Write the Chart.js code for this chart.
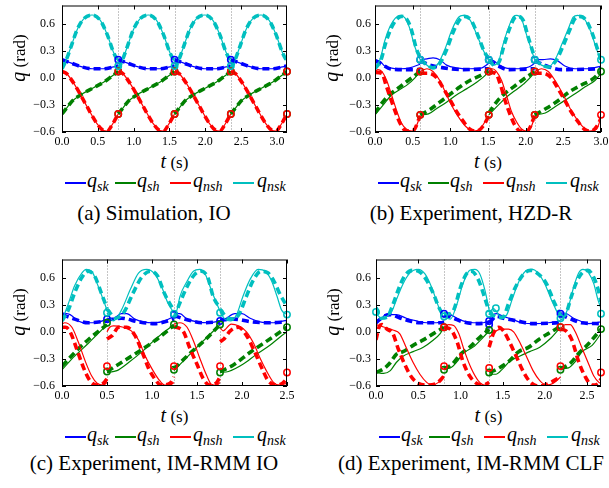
<!DOCTYPE html>
<html>
<head>
<meta charset="utf-8">
<script src="https://cdn.jsdelivr.net/npm/chart.js@4.4.0/dist/chart.umd.min.js"></script>
<style>
  body { margin: 0; background: #fff; }
  #fig { position: relative; width: 609px; height: 488px; overflow: hidden; background: #fff; font-family: 'Liberation Serif', serif; color: #000; }
  canvas { position: absolute; }
  .t { position: absolute; white-space: nowrap; line-height: 1; }
  .c { transform: translate(-50%, -50%); }
  .rot { transform: translate(-50%, -50%) rotate(-90deg); }
  .cap { font-size: 21px; }
  .ax { font-size: 17px; }
  .ax i { font-size: 20px; }
  .lg { font-size: 20px; line-height: 20px; }
  .lg sub { font-size: 14px; font-style: italic; vertical-align: -4px; line-height: 0; }
  .ll { position: absolute; height: 1.4px; width: 21px; }
</style>
</head>
<body>
<div id="fig">
  <canvas id="cA" width="304" height="150" style="left:0;top:0"></canvas>
  <canvas id="cB" width="304" height="150" style="left:305px;top:0"></canvas>
  <canvas id="cC" width="304" height="150" style="left:0;top:254px"></canvas>
  <canvas id="cD" width="304" height="150" style="left:305px;top:254px"></canvas>
</div>
<script>
// joint angles q (rad) vs t (s); solid = measured, dashed = desired, null breaks a step at impact
const N = null;
const yTicks = [-0.6, -0.3, 0, 0.3, 0.6];
const xTicksA = [0, 0.5, 1, 1.5, 2, 2.5, 3];
const xTicksB = [0, 0.5, 1, 1.5, 2, 2.5, 3];
const xTicksC = [0, 0.5, 1, 1.5, 2, 2.5];
const xTicksD = [0, 0.5, 1, 1.5, 2, 2.5];
const tImpactA = [0.785, 1.571, 2.356];
const tImpactB = [0.6, 1.51, 2.12];
const tImpactC = [0.5, 1.244, 1.756];
const tImpactD = [0.806, 1.34, 2.185];
const names = ['sk', 'sh', 'nsh', 'nsk'];

// (a) Simulation, IO
const skA = [[0,0.2],[0.14,0.16],[0.28,0.12],[0.42,0.1],[0.58,0.1],[0.72,0.12],[0.785,0.13],[0.785,N],
  [0.785,0.2],[0.925,0.16],[1.065,0.12],[1.205,0.1],[1.365,0.1],[1.505,0.12],[1.571,0.13],[1.571,N],
  [1.571,0.2],[1.711,0.16],[1.851,0.12],[1.991,0.1],[2.151,0.1],[2.291,0.12],[2.356,0.13],[2.356,N],
  [2.356,0.2],[2.496,0.16],[2.636,0.12],[2.776,0.1],[2.936,0.1],[3.076,0.12],[3.14,0.13]];
const shA = [[0,-0.4],[0.07,-0.33],[0.14,-0.26],[0.28,-0.18],[0.44,-0.11],[0.58,-0.05],[0.7,0.02],[0.785,0.07],[0.785,N],
  [0.785,-0.4],[0.855,-0.33],[0.925,-0.26],[1.065,-0.18],[1.225,-0.11],[1.365,-0.05],[1.485,0.02],[1.571,0.07],[1.571,N],
  [1.571,-0.4],[1.641,-0.33],[1.711,-0.26],[1.851,-0.18],[2.011,-0.11],[2.151,-0.05],[2.271,0.02],[2.356,0.07],[2.356,N],
  [2.356,-0.4],[2.426,-0.33],[2.496,-0.26],[2.636,-0.18],[2.796,-0.11],[2.936,-0.05],[3.056,0.02],[3.14,0.07]];
const nshA = [[0,0.07],[0.06,0.05],[0.13,-0.02],[0.21,-0.12],[0.35,-0.32],[0.49,-0.51],[0.58,-0.585],[0.63,-0.59],[0.7,-0.52],[0.785,-0.4],[0.785,N],
  [0.785,0.07],[0.845,0.05],[0.915,-0.02],[0.995,-0.12],[1.135,-0.32],[1.275,-0.51],[1.365,-0.585],[1.415,-0.59],[1.485,-0.52],[1.571,-0.4],[1.571,N],
  [1.571,0.07],[1.631,0.05],[1.701,-0.02],[1.781,-0.12],[1.921,-0.32],[2.061,-0.51],[2.151,-0.585],[2.201,-0.59],[2.271,-0.52],[2.356,-0.4],[2.356,N],
  [2.356,0.07],[2.416,0.05],[2.486,-0.02],[2.566,-0.12],[2.706,-0.32],[2.846,-0.51],[2.936,-0.585],[2.986,-0.59],[3.056,-0.52],[3.14,-0.4]];
const nskA = [[0,0.1],[0.06,0.2],[0.12,0.33],[0.21,0.53],[0.3,0.65],[0.42,0.695],[0.53,0.64],[0.63,0.48],[0.72,0.28],[0.785,0.18],[0.785,N],
  [0.785,0.1],[0.845,0.2],[0.905,0.33],[0.995,0.53],[1.085,0.65],[1.205,0.695],[1.315,0.64],[1.415,0.48],[1.505,0.28],[1.571,0.18],[1.571,N],
  [1.571,0.1],[1.631,0.2],[1.691,0.33],[1.781,0.53],[1.871,0.65],[1.991,0.695],[2.101,0.64],[2.201,0.48],[2.291,0.28],[2.356,0.18],[2.356,N],
  [2.356,0.1],[2.416,0.2],[2.476,0.33],[2.566,0.53],[2.656,0.65],[2.776,0.695],[2.886,0.64],[2.986,0.48],[3.076,0.28],[3.14,0.18]];
// in simulation the desired curves sit on top of the measured ones
const skRefA = skA, shRefA = shA, nshRefA = nshA, nskRefA = nskA;
const markA = [
  [[0.785,0.2],[1.571,0.2],[2.356,0.2]],
  [[0.785,0.07],[1.571,0.07],[2.356,0.07],[3.14,0.07],[0.785,-0.4],[1.571,-0.4],[2.356,-0.4],[3.14,-0.4]],
  [[0.785,0.07],[1.571,0.07],[2.356,0.07],[3.14,0.07],[0.785,-0.4],[1.571,-0.4],[2.356,-0.4],[3.14,-0.4]],
  [[0.785,0.13],[1.571,0.13],[2.356,0.13]]];

// (b) Experiment, HZD-R
const skB = [[0,0.2],[0.07,0.18],[0.13,0.13],[0.2,0.11],[0.33,0.1],[0.46,0.11],[0.6,0.15],[0.6,N],
  [0.6,0.2],[0.69,0.21],[0.77,0.22],[0.86,0.2],[0.95,0.14],[1.08,0.11],[1.26,0.1],[1.42,0.11],[1.51,0.16],[1.51,N],
  [1.51,0.2],[1.57,0.19],[1.64,0.15],[1.73,0.11],[1.9,0.1],[2.04,0.12],[2.12,0.16],[2.12,N],
  [2.12,0.2],[2.23,0.2],[2.33,0.21],[2.42,0.19],[2.52,0.13],[2.65,0.1],[2.83,0.1],[3.0,0.13]];
const skRefB = [[0,0.19],[0.11,0.14],[0.2,0.1],[0.4,0.09],[0.6,0.09],[0.6,N],
  [0.6,0.19],[0.73,0.14],[0.91,0.11],[1.17,0.09],[1.51,0.1],[1.51,N],
  [1.51,0.19],[1.64,0.13],[1.77,0.09],[2.12,0.1],[2.12,N],
  [2.12,0.19],[2.28,0.13],[2.48,0.09],[3.0,0.1]];
const shB = [[0,-0.41],[0.11,-0.3],[0.22,-0.19],[0.33,-0.13],[0.44,-0.07],[0.53,0.0],[0.6,0.07],[0.6,N],
  [0.6,-0.41],[0.71,-0.4],[0.82,-0.34],[0.95,-0.27],[1.08,-0.19],[1.22,-0.12],[1.35,-0.05],[1.48,0.04],[1.51,0.07],[1.51,N],
  [1.51,-0.41],[1.64,-0.3],[1.75,-0.21],[1.86,-0.14],[1.97,-0.07],[2.08,0.02],[2.12,0.07],[2.12,N],
  [2.12,-0.41],[2.26,-0.39],[2.39,-0.32],[2.52,-0.25],[2.65,-0.18],[2.79,-0.1],[2.92,-0.03],[3.0,0.05]];
const shRefB = [[0,-0.39],[0.11,-0.26],[0.22,-0.17],[0.33,-0.1],[0.44,-0.03],[0.6,0.07],[0.6,N],
  [0.6,-0.41],[0.73,-0.35],[0.86,-0.27],[1.0,-0.18],[1.13,-0.1],[1.26,-0.03],[1.39,0.02],[1.51,0.07],[1.51,N],
  [1.51,-0.39],[1.62,-0.26],[1.73,-0.17],[1.84,-0.1],[1.95,-0.03],[2.12,0.07],[2.12,N],
  [2.12,-0.41],[2.27,-0.34],[2.42,-0.26],[2.59,-0.15],[2.74,-0.08],[2.88,-0.02],[3.0,0.07]];
const nshB = [[0,0.07],[0.04,0.09],[0.09,0.07],[0.15,-0.02],[0.22,-0.19],[0.29,-0.37],[0.35,-0.5],[0.42,-0.57],[0.49,-0.59],[0.55,-0.53],[0.6,-0.42],[0.6,N],
  [0.6,0.07],[0.69,0.1],[0.77,0.07],[0.86,-0.03],[0.95,-0.19],[1.04,-0.34],[1.13,-0.46],[1.22,-0.55],[1.31,-0.59],[1.39,-0.57],[1.48,-0.46],[1.51,-0.42],[1.51,N],
  [1.51,0.07],[1.56,0.1],[1.61,0.07],[1.68,-0.03],[1.75,-0.21],[1.81,-0.37],[1.88,-0.49],[1.95,-0.57],[2.01,-0.59],[2.08,-0.53],[2.12,-0.42],[2.12,N],
  [2.12,0.07],[2.21,0.1],[2.3,0.07],[2.39,-0.03],[2.5,-0.19],[2.59,-0.34],[2.68,-0.46],[2.77,-0.55],[2.85,-0.59],[2.94,-0.57],[3.0,-0.44]];
const nshRefB = [[0,0.06],[0.09,0.05],[0.15,-0.09],[0.22,-0.26],[0.29,-0.42],[0.35,-0.53],[0.42,-0.59],[0.51,-0.58],[0.6,-0.42],[0.6,N],
  [0.6,0.05],[0.71,0.05],[0.82,0.0],[0.91,-0.12],[1.0,-0.25],[1.08,-0.37],[1.17,-0.48],[1.26,-0.57],[1.35,-0.59],[1.44,-0.53],[1.51,-0.42],[1.51,N],
  [1.51,0.06],[1.6,0.05],[1.67,-0.09],[1.73,-0.26],[1.8,-0.42],[1.86,-0.53],[1.93,-0.59],[2.03,-0.58],[2.12,-0.42],[2.12,N],
  [2.12,0.05],[2.23,0.05],[2.34,0.0],[2.43,-0.12],[2.52,-0.25],[2.6,-0.37],[2.69,-0.48],[2.78,-0.57],[2.87,-0.59],[2.95,-0.53],[3.0,-0.45]];
const nskB = [[0,0.09],[0.07,0.21],[0.13,0.41],[0.2,0.57],[0.27,0.66],[0.33,0.69],[0.4,0.66],[0.46,0.55],[0.53,0.34],[0.6,0.2],[0.6,N],
  [0.6,0.2],[0.66,0.16],[0.75,0.11],[0.84,0.16],[0.93,0.32],[1.02,0.53],[1.11,0.67],[1.17,0.69],[1.26,0.64],[1.35,0.48],[1.44,0.3],[1.51,0.2],[1.51,N],
  [1.51,0.2],[1.57,0.14],[1.64,0.18],[1.7,0.37],[1.77,0.55],[1.84,0.68],[1.88,0.69],[1.95,0.64],[2.01,0.48],[2.08,0.3],[2.12,0.2],[2.12,N],
  [2.12,0.2],[2.21,0.14],[2.3,0.12],[2.39,0.2],[2.48,0.37],[2.57,0.55],[2.63,0.67],[2.69,0.69],[2.77,0.66],[2.86,0.52],[2.94,0.32],[3.0,0.18]];
const nskRefB = [[0,0.1],[0.08,0.2],[0.14,0.38],[0.21,0.54],[0.28,0.64],[0.35,0.68],[0.42,0.65],[0.48,0.54],[0.55,0.32],[0.6,0.22],[0.6,N],
  [0.6,0.2],[0.68,0.15],[0.77,0.11],[0.86,0.16],[0.95,0.31],[1.04,0.51],[1.13,0.65],[1.19,0.68],[1.28,0.63],[1.37,0.46],[1.45,0.29],[1.51,0.21],[1.51,N],
  [1.51,0.2],[1.58,0.14],[1.65,0.18],[1.71,0.35],[1.78,0.53],[1.85,0.66],[1.9,0.68],[1.97,0.63],[2.03,0.46],[2.09,0.3],[2.12,0.22],[2.12,N],
  [2.12,0.2],[2.22,0.14],[2.31,0.12],[2.41,0.2],[2.5,0.36],[2.59,0.54],[2.65,0.65],[2.71,0.68],[2.79,0.65],[2.88,0.5],[2.96,0.3],[3.0,0.2]];
const markB = [
  [[0.6,0.2],[1.51,0.2],[2.12,0.2]],
  [[0.6,0.07],[1.51,0.07],[2.12,0.07],[3.0,0.07],[0.6,-0.41],[1.51,-0.41],[2.12,-0.41]],
  [[0.6,0.07],[1.51,0.07],[2.12,0.07],[0.6,-0.41],[1.51,-0.41],[2.12,-0.41],[3.0,-0.41]],
  [[0.6,0.2],[1.51,0.2],[2.12,0.2],[3.0,0.2]]];

// (c) Experiment, IM-RMM IO
const skC = [[0,0.21],[0.09,0.19],[0.18,0.12],[0.26,0.1],[0.37,0.1],[0.5,0.14],[0.5,N],
  [0.5,0.12],[0.58,0.15],[0.66,0.2],[0.72,0.2],[0.81,0.14],[0.9,0.11],[1.03,0.1],[1.14,0.12],[1.244,0.17],[1.244,N],
  [1.244,0.2],[1.31,0.2],[1.39,0.14],[1.5,0.11],[1.64,0.1],[1.756,0.12],[1.756,N],
  [1.756,0.12],[1.81,0.14],[1.92,0.2],[2.0,0.2],[2.09,0.15],[2.2,0.11],[2.35,0.1],[2.5,0.13]];
const skRefC = [[0,0.19],[0.14,0.14],[0.29,0.1],[0.5,0.12],[0.5,N],
  [0.5,0.13],[0.66,0.15],[0.85,0.11],[1.03,0.09],[1.244,0.14],[1.244,N],
  [1.244,0.18],[1.4,0.13],[1.56,0.1],[1.756,0.11],[1.756,N],
  [1.756,0.13],[1.92,0.14],[2.1,0.11],[2.3,0.1],[2.5,0.11]];
const shC = [[0,-0.42],[0.14,-0.27],[0.29,-0.13],[0.4,-0.02],[0.5,0.08],[0.5,N],
  [0.5,-0.45],[0.61,-0.43],[0.74,-0.34],[0.89,-0.22],[1.03,-0.09],[1.14,0.0],[1.244,0.08],[1.244,N],
  [1.244,-0.43],[1.39,-0.28],[1.57,-0.1],[1.756,0.08],[1.756,N],
  [1.756,-0.45],[1.85,-0.44],[2.01,-0.36],[2.16,-0.25],[2.31,-0.15],[2.42,-0.06],[2.5,0.0]];
const shRefC = [[0,-0.38],[0.15,-0.22],[0.3,-0.08],[0.5,0.08],[0.5,N],
  [0.5,-0.44],[0.66,-0.34],[0.85,-0.22],[1.03,-0.1],[1.244,0.07],[1.244,N],
  [1.244,-0.41],[1.41,-0.25],[1.59,-0.09],[1.756,0.08],[1.756,N],
  [1.756,-0.44],[1.9,-0.37],[2.1,-0.22],[2.31,-0.08],[2.5,0.05]];
const nshC = [[0,0.085],[0.03,0.1],[0.11,0.05],[0.18,-0.11],[0.26,-0.33],[0.33,-0.49],[0.39,-0.57],[0.46,-0.59],[0.5,-0.56],[0.5,N],
  [0.5,0.0],[0.53,0.05],[0.57,0.065],[0.68,0.05],[0.77,0.01],[0.85,-0.09],[0.92,-0.26],[1.0,-0.41],[1.07,-0.52],[1.14,-0.59],[1.2,-0.59],[1.244,-0.56],[1.244,N],
  [1.244,0.085],[1.31,0.1],[1.39,0.05],[1.46,-0.1],[1.53,-0.29],[1.61,-0.49],[1.66,-0.58],[1.72,-0.59],[1.756,-0.56],[1.756,N],
  [1.756,0.05],[1.79,0.01],[1.88,0.085],[1.96,0.066],[2.05,0.0],[2.13,-0.13],[2.2,-0.29],[2.27,-0.43],[2.35,-0.56],[2.42,-0.59],[2.5,-0.57]];
const nshRefC = [[0,0.05],[0.04,0.05],[0.09,0.0],[0.16,-0.18],[0.24,-0.4],[0.31,-0.54],[0.39,-0.59],[0.46,-0.57],[0.5,-0.52],[0.5,N],
  [0.5,-0.08],[0.56,-0.04],[0.63,0.05],[0.72,0.05],[0.81,-0.04],[0.89,-0.22],[0.96,-0.4],[1.03,-0.52],[1.1,-0.59],[1.2,-0.57],[1.244,-0.5],[1.244,N],
  [1.244,0.06],[1.35,0.0],[1.42,-0.18],[1.5,-0.36],[1.57,-0.52],[1.64,-0.59],[1.72,-0.56],[1.756,-0.5],[1.756,N],
  [1.756,-0.11],[1.8,-0.08],[1.87,0.01],[1.96,0.05],[2.05,-0.04],[2.14,-0.22],[2.22,-0.4],[2.29,-0.54],[2.39,-0.59],[2.48,-0.54],[2.5,-0.5]];
const nskC = [[0,0.12],[0.07,0.31],[0.14,0.51],[0.22,0.65],[0.27,0.69],[0.33,0.67],[0.4,0.51],[0.46,0.35],[0.5,0.24],[0.5,N],
  [0.5,0.21],[0.57,0.12],[0.66,0.24],[0.76,0.47],[0.85,0.65],[0.94,0.69],[1.03,0.64],[1.11,0.49],[1.18,0.31],[1.244,0.21],[1.244,N],
  [1.244,0.14],[1.28,0.25],[1.31,0.39],[1.39,0.56],[1.46,0.67],[1.53,0.69],[1.59,0.64],[1.66,0.46],[1.72,0.31],[1.756,0.23],[1.756,N],
  [1.756,0.22],[1.81,0.14],[1.87,0.12],[1.94,0.19],[2.01,0.39],[2.09,0.58],[2.18,0.69],[2.26,0.67],[2.33,0.56],[2.39,0.39],[2.44,0.24],[2.5,0.19]];
const nskRefC = [[0,0.12],[0.07,0.24],[0.14,0.43],[0.22,0.6],[0.29,0.67],[0.36,0.62],[0.44,0.42],[0.5,0.26],[0.5,N],
  [0.5,0.25],[0.6,0.15],[0.69,0.22],[0.79,0.43],[0.89,0.61],[0.98,0.67],[1.06,0.62],[1.14,0.42],[1.244,0.23],[1.244,N],
  [1.244,0.15],[1.31,0.32],[1.39,0.5],[1.47,0.63],[1.55,0.67],[1.62,0.6],[1.68,0.39],[1.756,0.26],[1.756,N],
  [1.756,0.25],[1.84,0.15],[1.9,0.14],[1.97,0.2],[2.04,0.37],[2.12,0.56],[2.21,0.67],[2.29,0.65],[2.36,0.55],[2.42,0.42],[2.5,0.28]];
const markC = [
  [[0.5,0.14],[1.244,0.19],[1.756,0.12]],
  [[0.5,0.1],[1.244,0.08],[1.756,0.08],[2.5,0.05],[0.5,-0.44],[1.244,-0.42],[1.756,-0.45]],
  [[0.5,-0.38],[1.244,-0.38],[1.756,-0.38],[2.5,-0.45]],
  [[0.5,0.21],[1.244,0.2],[1.756,0.21],[2.5,0.19]]];

// (d) Experiment, IM-RMM CLF
const skD = [[0,0.12],[0.07,0.15],[0.11,0.19],[0.24,0.19],[0.36,0.15],[0.48,0.12],[0.6,0.1],[0.72,0.1],[0.806,0.12],[0.806,N],
  [0.806,0.2],[0.88,0.19],[0.96,0.15],[1.03,0.12],[1.15,0.1],[1.27,0.1],[1.34,0.12],[1.34,N],
  [1.34,0.14],[1.39,0.19],[1.43,0.2],[1.51,0.17],[1.61,0.14],[1.73,0.1],[1.89,0.09],[2.04,0.1],[2.185,0.12],[2.185,N],
  [2.185,0.21],[2.26,0.2],[2.34,0.15],[2.42,0.12],[2.52,0.09],[2.665,0.11]];
const skRefD = [[0,0.1],[0.09,0.17],[0.17,0.19],[0.29,0.15],[0.4,0.12],[0.52,0.1],[0.806,0.1],[0.806,N],
  [0.806,0.19],[0.92,0.15],[1.03,0.11],[1.19,0.09],[1.34,0.1],[1.34,N],
  [1.34,0.1],[1.43,0.17],[1.51,0.15],[1.67,0.12],[1.86,0.09],[2.185,0.1],[2.185,N],
  [2.185,0.19],[2.31,0.14],[2.43,0.1],[2.665,0.09]];
const shD = [[0,-0.45],[0.09,-0.46],[0.17,-0.43],[0.24,-0.34],[0.32,-0.27],[0.44,-0.22],[0.56,-0.17],[0.68,-0.09],[0.76,-0.02],[0.806,0.05],[0.806,N],
  [0.806,-0.41],[0.88,-0.4],[0.96,-0.33],[1.03,-0.24],[1.15,-0.17],[1.27,-0.06],[1.34,0.01],[1.34,N],
  [1.34,-0.47],[1.42,-0.47],[1.5,-0.41],[1.58,-0.33],[1.7,-0.27],[1.82,-0.22],[1.94,-0.17],[2.06,-0.08],[2.185,0.05],[2.185,N],
  [2.185,-0.41],[2.28,-0.4],[2.36,-0.33],[2.44,-0.22],[2.56,-0.15],[2.665,-0.02]];
const shRefD = [[0,-0.45],[0.09,-0.41],[0.17,-0.34],[0.24,-0.25],[0.32,-0.22],[0.44,-0.15],[0.56,-0.09],[0.68,-0.02],[0.806,0.05],[0.806,N],
  [0.806,-0.41],[0.9,-0.36],[1.0,-0.25],[1.11,-0.17],[1.23,-0.06],[1.34,0.03],[1.34,N],
  [1.34,-0.45],[1.42,-0.42],[1.57,-0.33],[1.69,-0.22],[1.81,-0.17],[1.92,-0.09],[2.04,-0.02],[2.185,0.06],[2.185,N],
  [2.185,-0.41],[2.3,-0.35],[2.4,-0.24],[2.52,-0.13],[2.665,0.03]];
const nshD = [[0,0.08],[0.1,0.05],[0.2,0.02],[0.28,-0.02],[0.36,-0.18],[0.44,-0.34],[0.52,-0.47],[0.6,-0.56],[0.66,-0.59],[0.74,-0.56],[0.806,-0.49],[0.806,N],
  [0.806,0.05],[0.86,0.08],[0.92,0.07],[0.98,-0.02],[1.05,-0.22],[1.13,-0.41],[1.21,-0.54],[1.29,-0.59],[1.34,-0.57],[1.34,N],
  [1.34,-0.06],[1.37,-0.04],[1.42,0.01],[1.49,0.03],[1.57,0.03],[1.63,0.0],[1.71,-0.13],[1.79,-0.29],[1.86,-0.43],[1.94,-0.54],[2.02,-0.59],[2.1,-0.57],[2.185,-0.5],[2.185,N],
  [2.185,0.03],[2.24,0.08],[2.3,0.08],[2.36,0.0],[2.44,-0.18],[2.52,-0.36],[2.58,-0.49],[2.64,-0.56],[2.665,-0.57]];
const nshRefD = [[0,-0.09],[0.04,0.06],[0.07,0.08],[0.13,0.03],[0.2,-0.02],[0.26,-0.18],[0.34,-0.36],[0.42,-0.5],[0.5,-0.57],[0.6,-0.59],[0.72,-0.57],[0.806,-0.49],[0.806,N],
  [0.806,0.05],[0.88,0.03],[0.96,-0.11],[1.03,-0.33],[1.11,-0.49],[1.19,-0.57],[1.27,-0.59],[1.34,-0.56],[1.34,N],
  [1.34,-0.17],[1.39,-0.02],[1.45,0.05],[1.51,0.01],[1.59,-0.13],[1.67,-0.29],[1.75,-0.45],[1.83,-0.56],[1.92,-0.6],[2.0,-0.59],[2.185,-0.5],[2.185,N],
  [2.185,0.03],[2.25,0.01],[2.32,-0.09],[2.4,-0.33],[2.48,-0.5],[2.56,-0.59],[2.64,-0.57],[2.665,-0.52]];
const nskD = [[0,0.2],[0.07,0.15],[0.13,0.17],[0.19,0.23],[0.24,0.35],[0.32,0.53],[0.4,0.65],[0.5,0.69],[0.58,0.64],[0.66,0.49],[0.74,0.28],[0.806,0.15],[0.806,N],
  [0.806,0.16],[0.88,0.14],[0.96,0.31],[1.03,0.53],[1.11,0.68],[1.17,0.69],[1.23,0.64],[1.29,0.46],[1.34,0.24],[1.34,N],
  [1.34,0.2],[1.39,0.26],[1.43,0.22],[1.49,0.15],[1.55,0.19],[1.61,0.35],[1.69,0.55],[1.77,0.67],[1.85,0.69],[1.92,0.65],[2.0,0.53],[2.08,0.35],[2.185,0.14],[2.185,N],
  [2.185,0.13],[2.22,0.15],[2.28,0.28],[2.34,0.49],[2.4,0.65],[2.45,0.69],[2.52,0.65],[2.58,0.53],[2.63,0.35],[2.665,0.26]];
const nskRefD = [[0,0.27],[0.06,0.15],[0.13,0.16],[0.2,0.3],[0.27,0.48],[0.34,0.62],[0.43,0.68],[0.52,0.66],[0.6,0.57],[0.68,0.42],[0.75,0.26],[0.806,0.17],[0.806,N],
  [0.806,0.2],[0.86,0.2],[0.92,0.24],[1.0,0.49],[1.07,0.64],[1.13,0.67],[1.21,0.58],[1.29,0.37],[1.34,0.22],[1.34,N],
  [1.34,0.21],[1.45,0.16],[1.5,0.16],[1.57,0.31],[1.65,0.49],[1.75,0.64],[1.83,0.68],[1.92,0.64],[2.02,0.53],[2.1,0.35],[2.185,0.18],[2.185,N],
  [2.185,0.16],[2.25,0.2],[2.31,0.38],[2.38,0.56],[2.45,0.66],[2.51,0.68],[2.58,0.6],[2.63,0.47],[2.665,0.33]];
const markD = [
  [[0.806,0.2],[1.34,0.08],[1.34,0.12],[2.185,0.2]],
  [[0.806,0.05],[0.806,-0.42],[1.34,0.02],[1.34,-0.45],[2.185,0.05],[2.185,-0.42],[2.665,0.03]],
  [[0.806,-0.38],[0.806,0.05],[1.34,-0.4],[2.185,-0.38],[2.185,0.05],[2.665,-0.45]],
  [[0,0.22],[0.806,0.17],[1.34,0.2],[1.42,0.26],[2.185,0.15],[2.665,0.2]]];

const COLORS = ['#0000ff', '#008000', '#ff0000', '#00bfbf'];
const FONT = "'Liberation Serif', serif";

const panels = [
  { id: 'cA', xMax: 3.14, xTicks: xTicksA, impacts: tImpactA, yw: 62, padR: 17, tickPad: 7,
    solid: [skA, shA, nshA, nskA], ref: [skRefA, shRefA, nshRefA, nskRefA], marks: markA },
  { id: 'cB', xMax: 3.0, xTicks: xTicksB, impacts: tImpactB, yw: 70, padR: 8, tickPad: 4,
    solid: [skB, shB, nshB, nskB], ref: [skRefB, shRefB, nshRefB, nskRefB], marks: markB },
  { id: 'cC', xMax: 2.5, xTicks: xTicksC, impacts: tImpactC, yw: 62, padR: 17, tickPad: 7,
    solid: [skC, shC, nshC, nskC], ref: [skRefC, shRefC, nshRefC, nskRefC], marks: markC },
  { id: 'cD', xMax: 2.665, xTicks: xTicksD, impacts: tImpactD, yw: 71, padR: 8, tickPad: 5,
    solid: [skD, shD, nshD, nskD], ref: [skRefD, shRefD, nshRefD, nskRefD], marks: markD },
];

// box, inward ticks on all four sides, dotted impact lines
const framePlugin = {
  id: 'frame',
  beforeDatasetsDraw(chart, args, opts) {
    const { ctx, chartArea: a, scales: { x } } = chart;
    ctx.save();
    ctx.strokeStyle = '#8a8a8a';
    ctx.lineWidth = 1;
    ctx.setLineDash([1, 2]);
    for (const t of opts.impacts) {
      const px = Math.round(x.getPixelForValue(t)) + 0.5;
      ctx.beginPath();
      ctx.moveTo(px, a.top);
      ctx.lineTo(px, a.bottom);
      ctx.stroke();
    }
    ctx.restore();
  },
  afterDraw(chart) {
    const { ctx, chartArea: a, scales: { x, y } } = chart;
    ctx.save();
    ctx.strokeStyle = '#000';
    ctx.lineWidth = 1;
    ctx.beginPath();
    for (const tk of x.ticks) {
      const px = Math.round(x.getPixelForValue(tk.value)) + 0.5;
      ctx.moveTo(px, a.bottom); ctx.lineTo(px, a.bottom - 4);
      ctx.moveTo(px, a.top); ctx.lineTo(px, a.top + 4);
    }
    for (const tk of y.ticks) {
      const py = Math.round(y.getPixelForValue(tk.value)) + 0.5;
      ctx.moveTo(a.left, py); ctx.lineTo(a.left + 4, py);
      ctx.moveTo(a.right, py); ctx.lineTo(a.right - 4, py);
    }
    ctx.stroke();
    ctx.strokeRect(a.left + 0.5, a.top + 0.5, a.right - a.left - 1, a.bottom - a.top - 1);
    ctx.restore();
  }
};

const fmt = v => (v < 0 ? '\u2212' : '') + Math.abs(v).toFixed(1);
const noPad = s => { s.paddingLeft = 0; s.paddingRight = 0; s.paddingTop = 0; s.paddingBottom = 0; };

function buildDatasets(p) {
  const ds = [];
  p.solid.forEach((d, i) => {
    ds.push({ data: d, borderColor: COLORS[i], borderWidth: 1.2, order: 100 - 2 * i });
    ds.push({ data: p.ref[i], borderColor: COLORS[i], borderWidth: 3.6, borderDash: [7, 4], order: 99 - 2 * i });
  });
  p.marks.forEach((d, i) => {
    ds.push({ data: d, borderColor: COLORS[i], showLine: false, pointRadius: 3.2, pointBorderWidth: 1.5,
      pointBackgroundColor: 'rgba(0,0,0,0)', pointBorderColor: COLORS[i], order: 10 - i, clip: false });
  });
  return ds;
}

for (const p of panels) {
  new Chart(document.getElementById(p.id), {
    type: 'line',
    data: { datasets: buildDatasets(p) },
    options: {
      responsive: false,
      animation: false,
      layout: { padding: { top: 0, right: p.padR, bottom: 0, left: 0 } },
      elements: {
        point: { radius: 0 },
        line: { tension: 0.4, cubicInterpolationMode: 'monotone', fill: false },
      },
      spanGaps: false,
      scales: {
        x: {
          type: 'linear', min: 0, max: p.xMax,
          grid: { display: false, drawTicks: false }, border: { display: false },
          afterBuildTicks: ax => { ax.ticks = p.xTicks.map(v => ({ value: v })); },
          afterFit: s => { s.height = 18; noPad(s); },
          ticks: { callback: fmt, padding: 3, color: '#000', maxRotation: 0, font: { family: FONT, size: 12 } },
        },
        y: {
          type: 'linear', min: -0.6, max: 0.8,
          grid: { display: false, drawTicks: false }, border: { display: false },
          afterBuildTicks: ax => { ax.ticks = yTicks.map(v => ({ value: v })); },
          afterFit: s => { s.width = p.yw; noPad(s); },
          ticks: { callback: fmt, padding: p.tickPad, color: '#000', font: { family: FONT, size: 12 } },
        },
      },
      plugins: {
        legend: { display: false },
        tooltip: { enabled: false },
        frame: { impacts: p.impacts },
      },
    },
    plugins: [framePlugin],
  });
}

// text around the panels
const fig = document.getElementById('fig');
function addText(html, x, y, cls) {
  const d = document.createElement('div');
  d.className = 't ' + cls;
  d.style.left = x + 'px';
  d.style.top = y + 'px';
  d.innerHTML = html;
  fig.appendChild(d);
  return d;
}
function addLegend(lineX, textX, yc) {
  names.forEach((n, i) => {
    const l = document.createElement('div');
    l.className = 'll';
    l.style.left = lineX[i] + 'px';
    l.style.top = (yc - 0.7) + 'px';
    l.style.background = COLORS[i];
    fig.appendChild(l);
    addText('<i>q</i><sub>' + n + '</sub>', textX[i], yc - 13, 'lg');
  });
}

const captions = ['(a) Simulation, IO', '(b) Experiment, HZD-R', '(c) Experiment, IM-RMM IO', '(d) Experiment, IM-RMM CLF'];
const capX = [154, 471, 154, 471];
const capY = [213, 213, 463, 463];
const panelLeft = [62, 375, 62, 376];
const panelRight = [287, 601, 287, 601];
const panelTop = [0, 0, 254, 254];

panels.forEach((p, k) => {
  const top = panelTop[k];
  const cx = (panelLeft[k] + panelRight[k]) / 2;
  addText('<i>q</i> (rad)', panelLeft[k] - 44, top + 58, 'ax rot');
  addText('<i>t</i> (s)', cx, top + 161, 'ax c');
  const dx = panelLeft[k] - 62;
  addLegend([65, 115, 170, 233].map(v => v + dx), [87, 137, 193, 257].map(v => v + dx), top + 183);
  addText(captions[k], capX[k], capY[k], 'cap c');
});
</script>
</body>
</html>
